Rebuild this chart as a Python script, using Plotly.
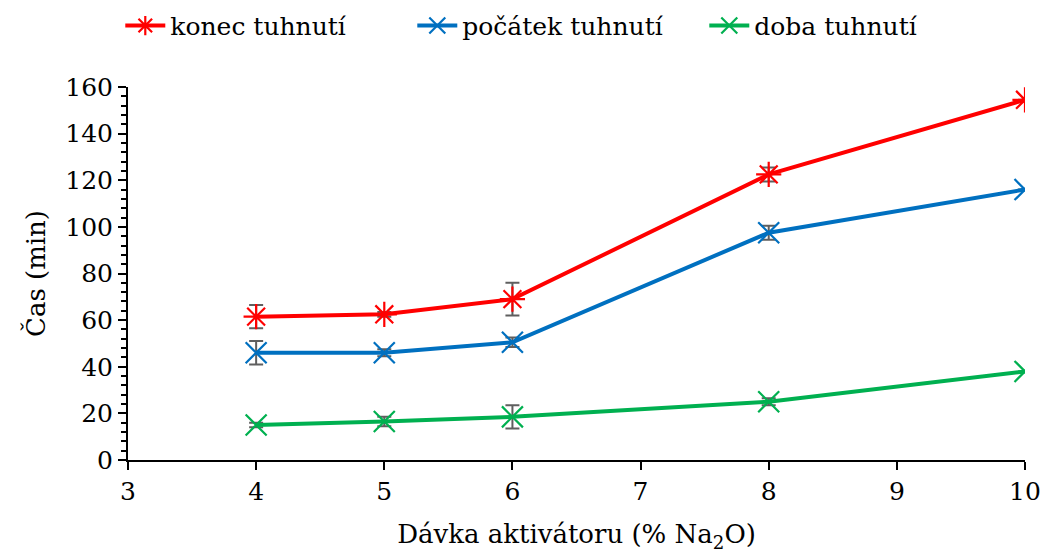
import plotly.graph_objects as go

# Dávka aktivátoru (% Na2O)
davka = [4, 5, 6, 8, 10]

# Časy tuhnutí (min) a směrodatné odchylky
konec = [61.5, 62.5, 69.0, 122.5, 154.5]
konec_err = [5.0, 1.0, 7.0, 3.0, 0.0]

pocatek = [46.0, 46.0, 50.5, 97.5, 116.0]
pocatek_err = [5.0, 1.5, 2.0, 3.0, 0.0]

doba = [15.0, 16.5, 18.5, 25.0, 38.0]
doba_err = [1.0, 2.0, 5.0, 1.5, 0.0]

FONT = "DejaVu Serif"
ERR_COLOR = "#5f5f5f"

series = [
    ("konec tuhnutí", konec, konec_err, "#ff0000", "asterisk-open"),
    ("počátek tuhnutí", pocatek, pocatek_err, "#0070c0", "x-thin-open"),
    ("doba tuhnutí", doba, doba_err, "#00b050", "x-thin-open"),
]

fig = go.Figure()
for name, vals, errs, color, symbol in series:
    fig.add_trace(go.Scatter(
        x=davka, y=vals, name=name, mode="lines+markers",
        line=dict(color=color, width=4),
        marker=dict(symbol=symbol, size=21, color=color,
                    line=dict(color=color, width=2.2)),
        error_y=dict(type="data", array=errs, visible=True,
                     color=ERR_COLOR, thickness=2, width=7),
    ))

fig.update_layout(
    width=1046, height=559,
    margin=dict(l=128, r=21, t=87, b=99, autoexpand=False),
    paper_bgcolor="white", plot_bgcolor="white",
    font=dict(family=FONT, size=24, color="black"),
    showlegend=True,
    legend=dict(orientation="h", xref="container", x=0.115, xanchor="left",
                y=0.995, yref="container", yanchor="top",
                font=dict(family=FONT, size=25),
                itemwidth=40, tracegroupgap=0, entrywidth=237),
    xaxis=dict(
        range=[3, 10], dtick=1, tick0=3,
        showline=True, linecolor="black", linewidth=2,
        ticks="outside", ticklen=8, tickwidth=2, tickcolor="black",
        showgrid=False, zeroline=False,
        tickfont=dict(family=FONT, size=25),
        title=dict(text="Dávka aktivátoru (% Na<sub>2</sub>O)",
                   font=dict(family=FONT, size=26), standoff=20),
    ),
    yaxis=dict(
        range=[0, 160], dtick=20,
        showline=True, linecolor="black", linewidth=2,
        ticks="outside", ticklen=8, tickwidth=2, tickcolor="black",
        minor=dict(dtick=4, ticks="outside", ticklen=5, tickwidth=2,
                   tickcolor="black"),
        showgrid=False, zeroline=False,
        tickfont=dict(family=FONT, size=25),
        title=dict(text="Čas (min)", font=dict(family=FONT, size=26),
                   standoff=12),
    ),
)

fig.write_html("out.html")
